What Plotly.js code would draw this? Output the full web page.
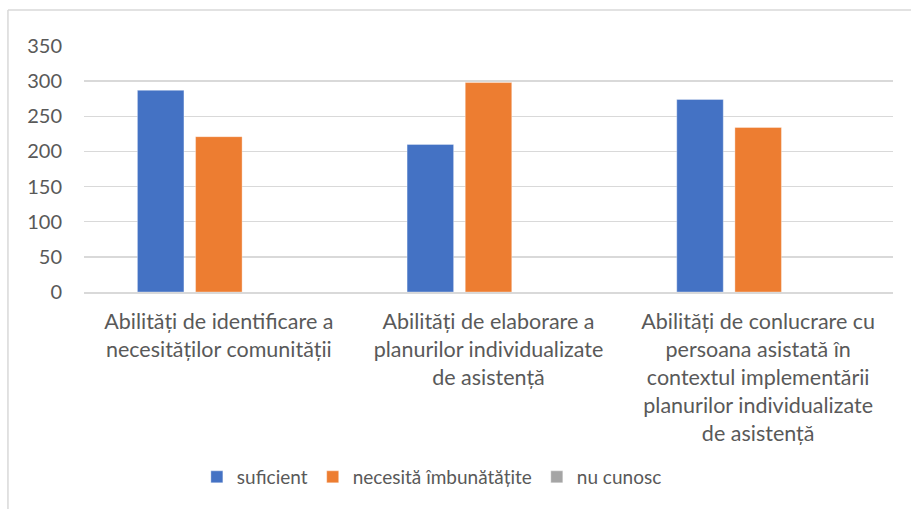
<!DOCTYPE html>
<html>
<head>
<meta charset="utf-8">
<script src="https://cdn.plot.ly/plotly-3.0.1.min.js"></script>
<style>
html,body{margin:0;padding:0;background:#fff;}
#chart{width:911px;height:509px;}
</style>
</head>
<body>
<div id="chart"></div>
<script>
const categories = [
  "Abilități de identificare a<br>necesităților comunității",
  "Abilități de elaborare a<br>planurilor individualizate<br>de asistență",
  "Abilități de conlucrare cu<br>persoana asistată în<br>contextul implementării<br>planurilor individualizate<br>de asistență"
];
const seriesNames = ["suficient", "necesită îmbunătățite", "nu cunosc"];
const suficient = [287, 210, 274];
const necesita = [221, 298, 234];
const nuCunosc = [0, 0, 0];
const colors = ["#4472c4", "#ed7d31", "#a5a5a5"];
const yTicks = [0, 50, 100, 150, 200, 250, 300, 350];

const values = [suficient, necesita, nuCunosc];
const traces = values.map((v, i) => ({
  type: "bar",
  name: seriesNames[i],
  x: categories,
  y: v,
  marker: {color: colors[i], line: {color: "rgba(255,255,255,0.35)", width: 1}},
  hoverinfo: "skip"
}));

const fam = "Lato, 'Open Sans', sans-serif";
const font = {family: fam, size: 19, color: "#595959"};

const layout = {
  width: 911, height: 509,
  margin: {l: 84, r: 18, t: 46, b: 217},
  paper_bgcolor: "#ffffff",
  plot_bgcolor: "#ffffff",
  font: font,
  barmode: "group",
  bargap: 0.353,
  bargroupgap: 0.2,
  showlegend: true,
  legend: {
    orientation: "h",
    x: 0.43, xanchor: "center",
    y: -0.752, yanchor: "middle",
    font: {family: fam, size: 19, color: "#595959"},
    traceorder: "normal"
  },
  xaxis: {
    type: "category",
    showgrid: false,
    showline: true, linecolor: "#d9d9d9", linewidth: 1.5,
    ticks: "",
    tickfont: {family: fam, size: 21.5, color: "#595959"},
    ticklabelstandoff: 10,
    fixedrange: true
  },
  yaxis: {
    range: [0, 350],
    tickvals: yTicks,
    ticktext: yTicks.map(String),
    showgrid: true, gridcolor: "#d9d9d9", gridwidth: 1.5,
    zeroline: false,
    showline: false,
    ticks: "",
    tickfont: {family: fam, size: 20, color: "#595959"},
    ticklabelstandoff: 21,
    fixedrange: true
  },
  shapes: [
    {type: "line", xref: "paper", yref: "paper", x0: -0.094, x1: -0.094, y0: 1.146, y1: -1.0, line: {color: "#d9d9d9", width: 1.5}},
    {type: "line", xref: "paper", yref: "paper", x0: -0.094, x1: 1.03, y0: 1.146, y1: 1.146, line: {color: "#d9d9d9", width: 1.5}}
  ]
};

Plotly.newPlot("chart", traces, layout, {displayModeBar: false, staticPlot: true});
</script>
</body>
</html>
